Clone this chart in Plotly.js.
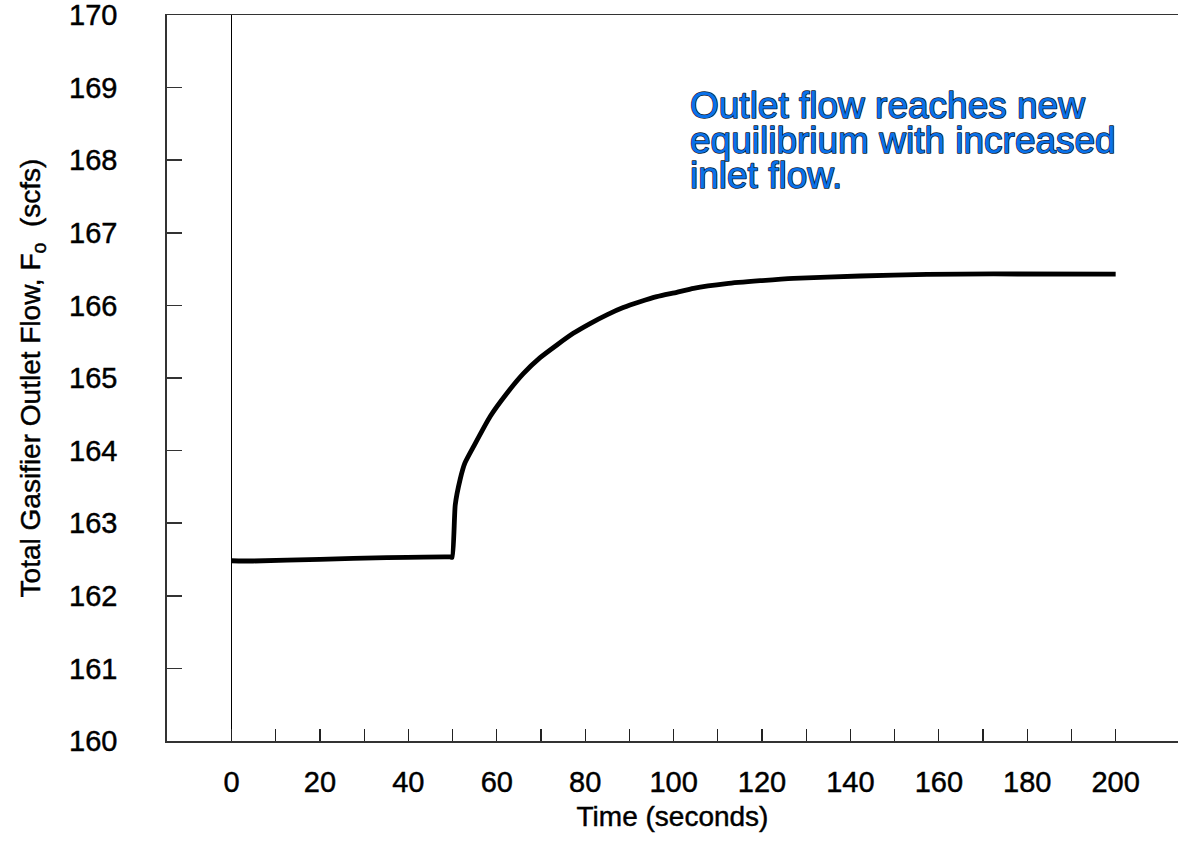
<!DOCTYPE html>
<html>
<head>
<meta charset="utf-8">
<script src="https://cdn.plot.ly/plotly-3.0.1.min.js"></script>
<style>
  html, body { margin: 0; padding: 0; background: #fff; overflow: hidden; }
  #chart { width: 1178px; height: 841px; }
  .annotation-text { stroke: #0d1a30; stroke-width: 1.5px; paint-order: stroke; stroke-linejoin: round; }
  .xtick text, .ytick text, .xtitle, .ytitle { stroke: #000; stroke-width: 0.45px; }
</style>
</head>
<body>
<div id="chart"></div>
<script>
// Time (seconds)
const timeSec = [0, 4.9, 20, 35.1, 49.4, 49.9, 50.6, 51.7, 52.8, 54.7, 58.5, 62.3, 66.0, 69.8, 73.6, 77.3, 81.1, 84.9, 88.6, 92.4, 96.2, 100.7, 104.5, 112.0, 119.6, 127.1, 142.2, 157.3, 172.4, 200];
// Total gasifier outlet flow (scfs)
const outletFlow = [162.483, 162.479, 162.503, 162.525, 162.535, 162.53, 163.25, 163.6, 163.83, 164.05, 164.47, 164.79, 165.06, 165.28, 165.455, 165.615, 165.75, 165.87, 165.97, 166.05, 166.12, 166.18, 166.235, 166.30, 166.34, 166.373, 166.405, 166.428, 166.433, 166.43];
// X tick values / labels
const xTickVals = [0, 10, 20, 30, 40, 50, 60, 70, 80, 90, 100, 110, 120, 130, 140, 150, 160, 170, 180, 190, 200];
const xTickText = ["0", "", "20", "", "40", "", "60", "", "80", "", "100", "", "120", "", "140", "", "160", "", "180", "", "200"];
const yTickVals = [160, 161, 162, 163, 164, 165, 166, 167, 168, 169, 170];
const noteLines = ["Outlet flow reaches new", "equilibrium with increased", "inlet flow."];

const fontFam = '"Liberation Sans", Arial, Helvetica, sans-serif';

const trace = {
  x: timeSec,
  y: outletFlow,
  type: 'scatter',
  mode: 'lines',
  line: { color: '#000000', width: 4.8, shape: 'spline', smoothing: 0.5 },
  hoverinfo: 'skip'
};

const annotations = noteLines.map((t, i) => ({
  text: t,
  xref: 'x', yref: 'paper',
  x: 103.3, y: 0.876 - i * 0.0485,
  xanchor: 'left', yanchor: 'middle',
  showarrow: false,
  align: 'left',
  font: { family: fontFam, size: 37, color: '#0a72ea' }
}));

const layout = {
  width: 1178, height: 841,
  margin: { l: 167, r: 0, t: 15, b: 100, pad: 0 },
  paper_bgcolor: '#ffffff',
  plot_bgcolor: '#ffffff',
  showlegend: false,
  font: { family: fontFam, color: '#000' },
  xaxis: {
    range: [-14.6, 214.1],
    tickmode: 'array',
    tickvals: xTickVals,
    ticktext: xTickText,
    ticks: 'inside', ticklen: 12, tickwidth: 1.2, tickcolor: '#222',
    showline: true, linecolor: '#333', linewidth: 1.5, mirror: true,
    showgrid: false,
    zeroline: true, zerolinecolor: '#000', zerolinewidth: 1.2,
    tickfont: { family: fontFam, size: 29, color: '#000' },
    ticklabelstandoff: 15,
    ticklabeloverflow: 'allow',
    title: { text: 'Time (seconds)', font: { family: fontFam, size: 28, color: '#000' }, standoff: 9 },
    fixedrange: true
  },
  yaxis: {
    range: [160, 170],
    tickmode: 'array',
    tickvals: yTickVals,
    ticks: 'inside', ticklen: 15, tickwidth: 1.5, tickcolor: '#333',
    showline: true, linecolor: '#333', linewidth: 1.8, mirror: false,
    showgrid: false, zeroline: false,
    tickfont: { family: fontFam, size: 29, color: '#000' },
    ticklabelstandoff: 42,
    ticklabeloverflow: 'allow',
    title: { text: 'Total Gasifier Outlet Flow, F<sub>o</sub>  (scfs)', font: { family: fontFam, size: 28, color: '#000' }, standoff: 20 },
    fixedrange: true
  },
  annotations: annotations
};

Plotly.newPlot('chart', [trace], layout, { displayModeBar: false, staticPlot: true });
</script>
</body>
</html>
